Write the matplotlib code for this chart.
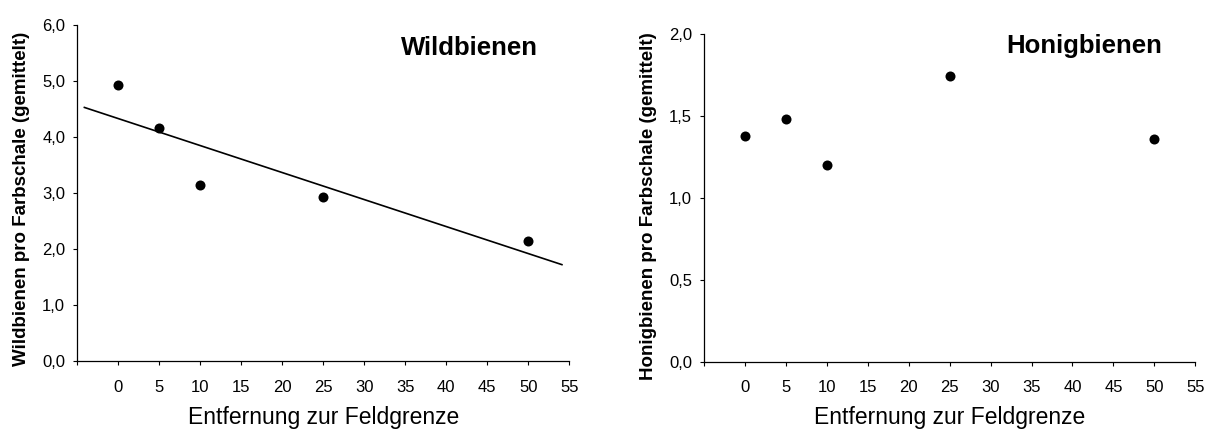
import numpy as np
import matplotlib
matplotlib.use("Agg")
import matplotlib.pyplot as plt

plt.rcParams['font.family'] = ['Liberation Sans', 'DejaVu Sans']

# Data
distance = [0, 5, 10, 25, 50]
wildbienen = [4.93, 4.16, 3.14, 2.93, 2.15]
honigbienen = [1.38, 1.48, 1.20, 1.745, 1.36]

x_ticks = [-5, 0, 5, 10, 15, 20, 25, 30, 35, 40, 45, 50, 55]
x_ticklabels = ['', '0', '5', '10', '15', '20', '25', '30', '35', '40', '45', '50', '55']
y_ticks_wild = [0, 1, 2, 3, 4, 5, 6]
y_ticklabels_wild = ['0,0', '1,0', '2,0', '3,0', '4,0', '5,0', '6,0']
y_ticks_honig = [0, 0.5, 1.0, 1.5, 2.0]
y_ticklabels_honig = ['0,0', '0,5', '1,0', '1,5', '2,0']

trend_range = [-4.1, 54.1]

xlabel = 'Entfernung zur Feldgrenze'
ylabel_wild = 'Wildbienen pro Farbschale (gemittelt)'
ylabel_honig = 'Honigbienen pro Farbschale (gemittelt)'

W, H = 1206, 430
fig = plt.figure(figsize=(W / 100, H / 100), dpi=100)

ax1 = fig.add_axes([77 / W, (H - 361) / H, (569.3 - 77) / W, (361 - 25) / H])
ax2 = fig.add_axes([704 / W, (H - 361.5) / H, (1195.3 - 704) / W, (361.5 - 34) / H])


def style(ax, yticks, yticklabels, ylim, ylabel, ylabel_y, xlabel_y):
    ax.set_xlim(-5, 55)
    ax.set_ylim(*ylim)
    ax.set_xticks(x_ticks)
    ax.set_xticklabels(x_ticklabels)
    ax.set_yticks(yticks)
    ax.set_yticklabels(yticklabels)
    for s in ['top', 'right']:
        ax.spines[s].set_visible(False)
    for s in ['left', 'bottom']:
        ax.spines[s].set_linewidth(0.9)
    ax.tick_params(axis='both', direction='out', length=3, width=0.8,
                   labelsize=12, colors='black')
    ax.tick_params(axis='x', pad=10.5)
    ax.tick_params(axis='y', pad=5.5)
    ax.set_xlabel(xlabel, fontsize=16.5)
    ax.xaxis.label.set_va('baseline')
    ax.xaxis.set_label_coords(0.5, xlabel_y)
    ax.set_ylabel(ylabel, fontsize=13.5, fontweight='bold')
    ax.yaxis.label.set_va('center')
    ax.yaxis.set_label_coords(-0.1128, ylabel_y)


# Left: Wildbienen
style(ax1, y_ticks_wild, y_ticklabels_wild, (0, 6), ylabel_wild, 0.484, -0.1875)
ax1.scatter(distance, wildbienen, s=52, color='black', zorder=3, linewidths=0)
slope, intercept = np.polyfit(distance, wildbienen, 1)
tx = np.array(trend_range)
ax1.plot(tx, slope * tx + intercept, color='black', linewidth=1.2)
ax1.text(0.797, 0.912, 'Wildbienen', transform=ax1.transAxes, ha='center',
         va='baseline', fontsize=18.5, fontweight='bold')

# Right: Honigbienen
style(ax2, y_ticks_honig, y_ticklabels_honig, (0, 2), ylabel_honig, 0.475, -0.19)
ax2.scatter(distance, honigbienen, s=52, color='black', zorder=3, linewidths=0)
ax2.text(0.774, 0.942, 'Honigbienen', transform=ax2.transAxes, ha='center',
         va='baseline', fontsize=18.5, fontweight='bold')

fig.savefig('out.png', dpi=100)
